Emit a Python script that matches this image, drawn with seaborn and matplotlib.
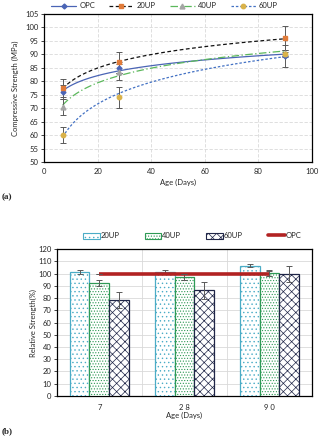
import numpy as np
import pandas as pd
import matplotlib
matplotlib.use("Agg")
import matplotlib.pyplot as plt
import seaborn as sns
from matplotlib.patches import Patch
from matplotlib.lines import Line2D

# ---------- data ----------
ages = [7, 28, 90]
mixes = ["OPC", "20UP", "40UP", "60UP"]
comp_opc = [76.0, 85.0, 89.5]
comp_20up = [77.5, 87.0, 96.0]
comp_40up = [70.5, 83.5, 90.5]
comp_60up = [60.0, 74.0, 90.0]
err_opc = [2.5, 2.0, 4.0]
err_20up = [3.5, 4.0, 4.5]
err_40up = [3.0, 3.0, 1.0]
err_60up = [3.0, 3.8, 1.0]

age_labels = ["7", "2 8", "9 0"]
rel_mixes = ["20UP", "40UP", "60UP"]
rel_20up = [101.5, 101.5, 106.5]
rel_40up = [92.5, 97.5, 100.5]
rel_60up = [78.5, 86.5, 100.0]
rel_err_20up = [1.5, 1.5, 1.5]
rel_err_40up = [2.5, 2.5, 2.5]
rel_err_60up = [6.5, 7.0, 6.5]
rel_opc = [100.0, 100.0, 100.0]
rel_err_opc = [0.0, 0.0, 2.0]

sns.set_theme(style="white")
plt.rcParams["font.family"] = ["Lato", "DejaVu Sans"]
plt.rcParams["hatch.linewidth"] = 0.5

fig = plt.figure(figsize=(3.23, 4.37), dpi=100)
fs = 5.5
grid_c = "#d9d9d9"
err_c = "#595959"

# ---------- (a) ----------
ax1 = fig.add_axes([0.136, 0.629, 0.830, 0.339])
comp = {"OPC": comp_opc, "20UP": comp_20up, "40UP": comp_40up, "60UP": comp_60up}
errs = {"OPC": err_opc, "20UP": err_20up, "40UP": err_40up, "60UP": err_60up}
line_c = {"OPC": "#4a64b5", "20UP": "#111111", "40UP": "#5cb85c", "60UP": "#4472c4"}
ls = {"OPC": "-", "20UP": (0, (3, 2)), "40UP": (0, (6, 2, 1, 2)), "60UP": (0, (2, 1.5))}
mk = {"OPC": "D", "20UP": "s", "40UP": "^", "60UP": "o"}
mk_c = {"OPC": "#4a64b5", "20UP": "#e07b39", "40UP": "#a5a5a5", "60UP": "#d9b24a"}
mk_s = {"OPC": 2.5, "20UP": 3.5, "40UP": 3.5, "60UP": 3.2}

for m in mixes:
    df = pd.DataFrame({"age": ages, "val": comp[m]})
    sns.regplot(data=df, x="age", y="val", logx=True, ci=None, scatter=False, ax=ax1,
                line_kws=dict(color=line_c[m], lw=0.9, ls=ls[m]))
for m in mixes:
    ax1.errorbar(ages, comp[m], yerr=errs[m], fmt="none", ecolor=err_c, elinewidth=0.7,
                 capsize=2.5, capthick=0.7, zorder=4)
    ax1.plot(ages, comp[m], ls="none", marker=mk[m], ms=mk_s[m], color=mk_c[m],
             mec=mk_c[m], zorder=5)

ax1.set_xlim(0, 100)
ax1.set_ylim(50, 105)
ax1.set_xticks(range(0, 101, 20))
ax1.set_yticks(range(50, 106, 5))
ax1.grid(True, color=grid_c, lw=0.6, ls=(0, (4, 2)))
ax1.tick_params(labelsize=fs, length=2, width=0.6, direction="out", pad=2)
ax1.tick_params(axis="both", which="both", left=True, bottom=False)
for s in ax1.spines.values():
    s.set_color("black"); s.set_linewidth(0.9)
ax1.set_xlabel("Age (Days)", fontsize=fs, labelpad=3)
ax1.set_ylabel("Compressive Strength (MPa)", fontsize=fs, labelpad=4)

handles1 = [Line2D([0], [0], color=line_c[m], ls=ls[m], lw=0.9, marker=mk[m],
                   ms=mk_s[m], mfc=mk_c[m], mec=mk_c[m]) for m in mixes]
ax1.legend(handles1, mixes, ncol=4, loc="lower center", bbox_to_anchor=(0.45, 1.005),
           frameon=False, fontsize=fs, handlelength=3.3, columnspacing=1.8,
           handletextpad=0.4, borderpad=0)
fig.text(0.005, 0.545, "(a)", fontsize=6.5, family=["Liberation Serif"], weight="bold")

# ---------- (b) ----------
ax2 = fig.add_axes([0.176, 0.094, 0.790, 0.336])
rel = {"20UP": rel_20up, "40UP": rel_40up, "60UP": rel_60up}
rel_err = {"20UP": rel_err_20up, "40UP": rel_err_40up, "60UP": rel_err_60up}
rows = []
for m in rel_mixes:
    for a, v in zip(age_labels, rel[m]):
        rows.append({"Age": a, "Mix": m, "val": v})
rdf = pd.DataFrame(rows)
edge = {"20UP": "#4bacc6", "40UP": "#2e9a55", "60UP": "#1f2547"}
hatch = {"20UP": "....", "40UP": "......", "60UP": "xxxx"}
sns.barplot(data=rdf, x="Age", y="val", hue="Mix", order=age_labels, hue_order=rel_mixes,
            errorbar=None, width=0.7, ax=ax2, legend=False, zorder=3)
cont = ax2.containers
for m, c in zip(rel_mixes, cont):
    xs = []
    for p in c.patches:
        p.set_facecolor("white")
        p.set_edgecolor(edge[m])
        p.set_linewidth(0.9)
        p.set_hatch(hatch[m])
        xs.append(p.get_x() + p.get_width() / 2)
    ax2.errorbar(xs, rel[m], yerr=rel_err[m], fmt="none", ecolor=err_c, elinewidth=0.7,
                 capsize=2.5, capthick=0.7, zorder=6)

ax2.plot(range(len(age_labels)), rel_opc, color="#b22222", lw=2.6, zorder=7,
         solid_capstyle="butt")
ax2.errorbar(range(len(age_labels)), rel_opc, yerr=rel_err_opc, fmt="none", ecolor=err_c,
             elinewidth=0.7, capsize=2.0, capthick=0.7, zorder=8)

ax2.set_ylim(0, 120)
ax2.set_yticks(range(0, 121, 10))
ax2.set_xlim(-0.5, 2.5)
ax2.set_xticks([0.5, 1.5], minor=True)
ax2.grid(True, axis="y", color=grid_c, lw=0.6)
ax2.grid(True, axis="x", which="minor", color=grid_c, lw=0.6)
ax2.tick_params(labelsize=fs, length=0, pad=6, axis="x")
ax2.tick_params(labelsize=fs, length=2, width=0.6, axis="y", left=True, pad=2)
for s in ax2.spines.values():
    s.set_color("black"); s.set_linewidth(0.9)
ax2.set_xlabel("Age (Days)", fontsize=fs, labelpad=0.5)
ax2.set_ylabel("Relative Strength(%)", fontsize=fs, labelpad=1)

handles2 = [Patch(facecolor="white", edgecolor=edge[m], hatch=hatch[m], lw=0.8) for m in rel_mixes]
handles2.append(Line2D([0], [0], color="#b22222", lw=2.6))
ax2.legend(handles2, rel_mixes + ["OPC"], ncol=4, loc="lower center",
           bbox_to_anchor=(0.53, 1.04), frameon=False, fontsize=fs, handlelength=2.2,
           handleheight=0.9, columnspacing=3.3, handletextpad=0.1, borderpad=0)
fig.text(0.005, 0.008, "(b)", fontsize=6.5, family=["Liberation Serif"], weight="bold")

fig.savefig("out.png", dpi=100)
